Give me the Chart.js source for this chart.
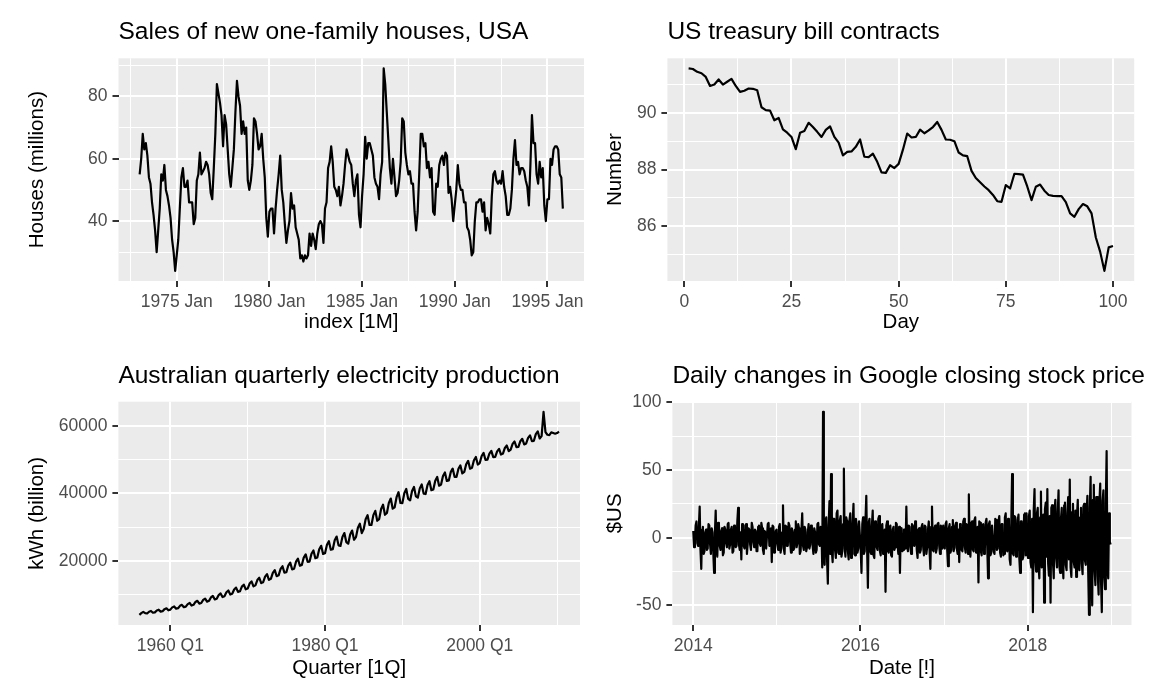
<!DOCTYPE html>
<html>
<head>
<meta charset="utf-8">
<title>Four time series</title>
<script src="https://cdn.jsdelivr.net/npm/chart.js@4.4.3/dist/chart.umd.js"></script>
<style>
    html, body {
        margin: 0px;
        padding: 0px;
        background-color: #ffffff;
    }

    #page {
        position: relative;
        width: 1153px;
        height: 694px;
        overflow: hidden;
    }

    #page canvas {
        position: absolute;
    }
</style>
</head>

<body>
<div id="page">
    <canvas id="hsalesChart" width="600" height="347" style="left:0px;top:0px;width:600px;height:347px"></canvas>
    <canvas id="ustreasChart" width="577" height="347" style="left:576px;top:0px;width:577px;height:347px"></canvas>
    <canvas id="elecChart" width="600" height="347" style="left:0px;top:347px;width:600px;height:347px"></canvas>
    <canvas id="googChart" width="577" height="347" style="left:576px;top:347px;width:577px;height:347px"></canvas>
</div>

<script>
// ---- data: monthly house sales, Jan 1973 onwards ----
const hsalesStart = 1973;
const hsalesValues = [
    55, 60, 68, 63, 65, 61, 54, 52, 46, 42, 37, 30,
    37, 44, 55, 53, 58, 50, 48, 45, 41, 34, 30, 24,
    29, 34, 44, 54, 57, 51, 51, 53, 46, 46, 46, 39,
    41, 53, 55, 62, 55, 56, 57, 59, 58, 55, 49, 47,
    57, 68, 84, 81, 78, 74, 64, 74, 71, 63, 55, 51,
    57, 63, 75, 85, 80, 77, 68, 72, 68, 70, 53, 50,
    53, 58, 73, 72, 68, 63, 64, 68, 60, 54, 41, 35,
    43, 44, 44, 36, 44, 50, 55, 61, 50, 46, 39, 33,
    37, 40, 49, 44, 45, 38, 36, 34, 28, 29, 27, 29,
    28, 29, 36, 32, 36, 34, 31, 36, 39, 40, 39, 33,
    44, 46, 57, 59, 64, 59, 51, 50, 48, 51, 45, 48,
    52, 58, 63, 61, 59, 58, 52, 48, 53, 55, 42, 38,
    48, 55, 67, 60, 65, 65, 63, 61, 54, 52, 51, 47,
    55, 59, 89, 84, 75, 66, 57, 52, 60, 54, 48, 49,
    53, 59, 73, 72, 62, 58, 55, 56, 52, 52, 43, 37,
    43, 55, 68, 68, 64, 65, 57, 59, 54, 57, 43, 42,
    52, 51, 58, 60, 61, 58, 62, 61, 49, 51, 47, 40,
    45, 50, 58, 52, 50, 50, 46, 46, 38, 37, 34, 29,
    30, 40, 46, 46, 47, 47, 43, 46, 37, 41, 39, 36,
    48, 55, 56, 53, 52, 53, 52, 56, 51, 48, 42, 42,
    44, 50, 60, 66, 58, 59, 55, 57, 57, 56, 53, 51,
    45, 58, 74, 65, 65, 55, 52, 59, 54, 57, 45, 40,
    47, 47, 60, 58, 63, 64, 64, 63, 55, 54, 44
];
const hsalesXBreaks = [1975, 1980, 1985, 1990, 1995];
const hsalesXLabels = ['1975 Jan', '1980 Jan', '1985 Jan', '1990 Jan', '1995 Jan'];
const hsalesXMinor = [1972.5, 1977.5, 1982.5, 1987.5, 1992.5, 1997.5];
const hsalesYBreaks = [40, 60, 80];
const hsalesYLabels = ['40', '60', '80'];
const hsalesYMinor = [30, 50, 70, 90];

// ---- data: treasury bill contracts, day 1..100 ----
const ustreasStart = 1;
const ustreasValues = [
    91.57, 91.55, 91.45, 91.40, 91.27, 90.95, 91.00, 91.18, 91.00, 91.10,
    91.20, 90.95, 90.74, 90.78, 90.86, 90.85, 90.80, 90.20, 90.10, 90.08,
    89.74, 89.82, 89.42, 89.30, 89.15, 88.72, 89.30, 89.36, 89.65, 89.50,
    89.33, 89.15, 89.40, 89.52, 89.15, 88.95, 88.50, 88.62, 88.64, 88.80,
    89.06, 88.45, 88.44, 88.56, 88.27, 87.90, 87.88, 88.15, 88.05, 88.20,
    88.70, 89.27, 89.13, 89.15, 89.41, 89.28, 89.38, 89.50, 89.68, 89.40,
    89.06, 89.05, 89.00, 88.60, 88.50, 88.47, 87.95, 87.70, 87.55, 87.40,
    87.27, 87.10, 86.88, 86.86, 87.45, 87.33, 87.85, 87.84, 87.82, 87.40,
    86.92, 87.39, 87.47, 87.25, 87.10, 87.07, 87.06, 87.06, 86.85, 86.45,
    86.33, 86.60, 86.78, 86.70, 86.45, 85.60, 85.10, 84.42, 85.25, 85.30
];
const ustreasXBreaks = [0, 25, 50, 75, 100];
const ustreasXLabels = ['0', '25', '50', '75', '100'];
const ustreasXMinor = [12.5, 37.5, 62.5, 87.5];
const ustreasYBreaks = [86, 88, 90];
const ustreasYLabels = ['86', '88', '90'];
const ustreasYMinor = [85, 87, 89, 91];

// ---- data: quarterly electricity production, 1956 Q1 onwards ----
const elecStart = 1956;
const elecValues = [
    3923, 4436, 4806, 4418, 4320, 4850, 5080, 4550, 4650, 5210, 5450, 4890,
    5020, 5620, 5880, 5280, 5480, 6140, 6420, 5760, 5900, 6600, 6900, 6200,
    6350, 7120, 7450, 6680, 6900, 7740, 8100, 7260, 7440, 8360, 8760, 7840,
    8080, 9090, 9520, 8510, 8720, 9810, 10280, 9190, 9450, 10640, 11150, 9960,
    10180, 11470, 12020, 10730, 10910, 12300, 12890, 11500, 11740, 13220, 13860, 12380,
    12670, 14250, 14930, 13350, 13600, 15280, 16000, 14320, 14620, 16410, 17180, 15390,
    15650, 17540, 18350, 16460, 16580, 18570, 19420, 17430, 17600, 19700, 20600, 18500,
    18720, 20930, 21880, 19670, 19750, 22060, 23050, 20740, 20980, 23390, 24420, 22010,
    22200, 24720, 25800, 23280, 23430, 26050, 27170, 24550, 24400, 27060, 28200, 25540,
    25050, 27780, 28950, 26220, 27000, 29800, 31000, 28200, 29400, 32300, 33500, 30600,
    30600, 33540, 34800, 31860, 32350, 35360, 36650, 33640, 34150, 37160, 38450, 35440,
    35850, 38860, 40350, 37140, 37100, 40040, 41300, 38360, 37900, 40700, 41900, 39100,
    38750, 41480, 42650, 39920, 39800, 42460, 43600, 40940, 41150, 43740, 44850, 42260,
    42600, 45120, 46200, 43680, 43850, 46300, 47350, 44900, 44900, 47280, 48300, 45920,
    46350, 48660, 49650, 47340, 47600, 49840, 50800, 48560, 49000, 51100, 52000, 49900,
    50000, 51820, 52600, 50780, 50800, 52480, 53200, 51520, 51800, 53480, 54200, 52520,
    53000, 54680, 55400, 53720, 53800, 55480, 56200, 54520, 54800, 56480, 57200, 55520,
    55600, 57600, 58400, 56300, 57000, 64200, 58200, 57400, 57300, 58100, 57900, 57700,
    57900, 58300
];
const elecXBreaks = [1960, 1980, 2000];
const elecXLabels = ['1960 Q1', '1980 Q1', '2000 Q1'];
const elecXMinor = [1950, 1970, 1990, 2010];
const elecYBreaks = [20000, 40000, 60000];
const elecYLabels = ['20000', '40000', '60000'];
const elecYMinor = [10000, 30000, 50000];

// ---- data: daily changes in Google closing price (sampled twice a week), 2014 onwards ----
const googStart = 2014;
const googChanges = [
    // 2014
    5, -7, -3, 9, 12, -4, -6, 8, 23, -9, -23, 6, 8, -12, -10, 4, 6, -9, -8, 10,
    9, -5, -12, 7, 4, -11, -26, 3, 20, -8, -14, 11, 10, -6, -9, 5, 7, -13, -11, 8,
    6, -4, -7, 10, 11, -8, -5, 6, 8, -11, -10, 9, 5, -7, -6, 12, 22, -5, -9, 4,
    -16, 10, 7, -6, -8, 9, 10, -12, -4, 7, 6, -5, -9, 11, 8, -3, -7, 6, 5, -10,
    -10, 8, 9, -4, -6, 11, 7, -9, -12, 5, 4, -8, -8, 10, 11, -6, -5, 7, -18, 9,
    8, -11, -6, 5,
    // 2015
    6, -5, -9, 8, 10, -11, -7, 4, 24, -8, -12, 9, 8, -6, -6, 11, 9, -4, -11, 7,
    5, -9, -8, 6, 12, -7, -4, 10, 7, -12, -10, 5, 18, -6, -9, 8, 6, -10, -7, 4,
    10, -8, -5, 9, 8, -6, -12, 7, 4, -11, -9, 10, 11, -5, -6, 8, 7, -22, 93, -14,
    -20, 12, 15, -16, -34, 9, 27, -12, 47, -10, -18, 14, 14, -9, -15, 18, 20, -11, -12, 13,
    16, -14, -10, 10, 51, -8, -14, 15, 12, -10, -16, 13, 18, -15, -9, 11, 25, -12, -13, 14,
    10, -11, -8, 12,
    // 2016
    12, -9, -26, 10, 15, -12, -10, 13, 31, -8, -37, 11, 14, -10, -12, 9, 20, -13, -15, 12,
    11, -7, -9, 14, 16, -10, -13, 8, 10, -12, -8, 6, -40, 9, 12, -10, -11, 7, 9, -13,
    -14, 6, 8, -9, -7, 11, 10, -5, -12, 8, -26, 5, 7, -10, -9, 6, 6, -8, 23, -6,
    -10, 9, 8, -7, -12, 10, 9, -5, -6, 12, 11, -9, -15, 6, 7, -11, -9, 8, 10, -7,
    -13, 9, 8, -12, -7, 6, 12, -10, -23, 8, 23, -9, -10, 7, 9, -11, -8, 10, 11, -6,
    -12, 9, 7, -8,
    // 2017
    9, -6, -8, 10, 12, -9, -21, 7, 10, -11, -9, 8, 13, -10, -7, 9, 11, -8, -12, 6,
    -18, 10, 8, -9, -10, 12, 14, -7, -11, 10, 9, -12, 32, -8, -14, 11, 12, -9, -10, 13,
    15, -11, -9, 8, -33, 12, 11, -10, -13, 9, 10, -12, -8, 11, 14, -7, -30, 10, 12, -13,
    -11, 9, 9, -10, -12, 14, 13, -9, -8, 12, 16, -11, -14, 10, 10, -13, -12, 15, 18, -9,
    -10, 14, 12, -16, -20, 11, 47, -12, -13, 16, 15, -14, -11, 13, 17, -15, -26, 12, 12, -16,
    -14, 17, 18, -13,
    // 2018
    18, -12, -15, 16, 20, -18, -22, 14, -55, 20, 36, -16, -25, 18, 22, -20, -30, 15, 34, -22,
    -20, 17, -48, 21, 26, -14, 36, -19, -28, 16, -48, 22, 24, -18, -30, 20, 28, -15, -22, 19,
    35, -21, -26, 14, 22, -17, -30, 24, 26, -20, -24, 18, 30, -16, 43, -22, -29, 19, 25, -18,
    -22, 20, -29, 16, 28, -21, -24, 15, 22, -19, -27, 23, 25, -17, -20, 18, 31, -25, -57, 22,
    45, -30, -50, 28, 39, -24, -35, 30, 30, -28, -42, 26, 40, -32, -55, 27, 35, -29, -38, 25,
    64, -22, -30, 18, -3, -5
];
const googXBreaks = [2014, 2016, 2018];
const googXLabels = ['2014', '2016', '2018'];
const googXMinor = [2013, 2015, 2017, 2019];
const googYBreaks = [-50, 0, 50, 100];
const googYLabels = ['-50', '0', '50', '100'];
const googYMinor = [-25, 25, 75];

// ---- ggplot-ish look ----
const FONT = '"Liberation Sans", Arial, sans-serif';

const panelBg = {
    id: 'panelBg',
    beforeDraw(chart) {
        const { ctx, chartArea } = chart;
        ctx.save();
        ctx.fillStyle = '#EBEBEB';
        ctx.fillRect(chartArea.left, chartArea.top, chartArea.right - chartArea.left, chartArea.bottom - chartArea.top);
        ctx.restore();
    }
};

const panelTitle = {
    id: 'panelTitle',
    afterDraw(chart, args, opts) {
        const { ctx, chartArea } = chart;
        ctx.save();
        ctx.font = '24.5px ' + FONT;
        ctx.fillStyle = '#000000';
        ctx.textBaseline = 'alphabetic';
        ctx.textAlign = 'left';
        ctx.fillText(opts.text, chartArea.left, chartArea.top - 19);
        ctx.restore();
    }
};

function expand(lo, hi) {
    const d = (hi - lo) * 0.05;
    return [lo - d, hi + d];
}

function tickList(breaks, labels, minor, range) {
    const t = [];
    minor.forEach(v => { if (v >= range[0] && v <= range[1]) t.push({ value: v, lab: '', mj: false }); });
    breaks.forEach((v, i) => { if (v >= range[0] && v <= range[1]) t.push({ value: v, lab: labels[i], mj: true }); });
    return t.sort((a, b) => a.value - b.value);
}

function axisOpts(range, breaks, labels, minor, title, titlePad, fit) {
    return {
        type: 'linear',
        min: range[0],
        max: range[1],
        bounds: 'data',
        afterBuildTicks: axis => { axis.ticks = tickList(breaks, labels, minor, range); },
        afterFit: fit,
        ticks: {
            autoSkip: false,
            maxRotation: 0,
            minRotation: 0,
            padding: 5,
            color: '#4D4D4D',
            font: { family: FONT, size: 17.5 },
            callback: (v, i, ticks) => ticks[i].lab
        },
        grid: {
            color: '#FFFFFF',
            lineWidth: c => (c.tick && c.tick.mj ? 2 : 1),
            tickLength: 6,
            tickWidth: 2,
            tickColor: c => (c.tick && c.tick.mj ? '#333333' : 'rgba(0,0,0,0)')
        },
        border: { display: false },
        title: {
            display: true,
            text: title,
            color: '#000000',
            font: { family: FONT, size: 20.5 },
            padding: titlePad
        }
    };
}

function makePanel(p) {
    const pts = p.values.map((v, i) => ({ x: p.x0 + i * p.step, y: v }));
    const xr = expand(pts[0].x, pts[pts.length - 1].x);
    const yr = expand(Math.min(...p.values), Math.max(...p.values));
    const a = p.area;

    new Chart(document.getElementById(p.id), {
        type: 'line',
        data: {
            datasets: [{
                data: pts,
                borderColor: '#000000',
                borderWidth: 2.2,
                borderJoinStyle: 'round',
                pointRadius: 0,
                tension: 0,
                fill: false
            }]
        },
        options: {
            responsive: false,
            animation: false,
            events: [],
            layout: { padding: { left: 0, top: a.top, right: p.w - a.right, bottom: 0 } },
            plugins: {
                legend: { display: false },
                tooltip: { enabled: false },
                panelTitle: { text: p.title }
            },
            scales: {
                x: axisOpts(xr, p.xBreaks, p.xLabels, p.xMinor, p.xTitle,
                    { top: 0, bottom: p.xTitlePad },
                    axis => { axis.height = p.h - a.bottom; }),
                y: axisOpts(yr, p.yBreaks, p.yLabels, p.yMinor, p.yTitle,
                    { top: p.yTitlePad, bottom: 0 },
                    axis => { axis.width = a.left; })
            }
        },
        plugins: [panelBg, panelTitle]
    });
}

makePanel({
    id: 'hsalesChart', title: 'Sales of new one-family houses, USA',
    values: hsalesValues, x0: hsalesStart, step: 1 / 12,
    xBreaks: hsalesXBreaks, xLabels: hsalesXLabels, xMinor: hsalesXMinor,
    yBreaks: hsalesYBreaks, yLabels: hsalesYLabels, yMinor: hsalesYMinor,
    xTitle: 'index [1M]', yTitle: 'Houses (millions)',
    w: 600, h: 347, area: { left: 118.5, right: 584, top: 58.3, bottom: 281 },
    xTitlePad: 12.3, yTitlePad: 25.4
});

makePanel({
    id: 'ustreasChart', title: 'US treasury bill contracts',
    values: ustreasValues, x0: ustreasStart, step: 1,
    xBreaks: ustreasXBreaks, xLabels: ustreasXLabels, xMinor: ustreasXMinor,
    yBreaks: ustreasYBreaks, yLabels: ustreasYLabels, yMinor: ustreasYMinor,
    xTitle: 'Day', yTitle: 'Number',
    w: 577, h: 347, area: { left: 91.4, right: 558.2, top: 58.3, bottom: 281 },
    xTitlePad: 12.3, yTitlePad: 26.8
});

makePanel({
    id: 'elecChart', title: 'Australian quarterly electricity production',
    values: elecValues, x0: elecStart, step: 1 / 4,
    xBreaks: elecXBreaks, xLabels: elecXLabels, xMinor: elecXMinor,
    yBreaks: elecYBreaks, yLabels: elecYLabels, yMinor: elecYMinor,
    xTitle: 'Quarter [1Q]', yTitle: 'kWh (billion)',
    w: 600, h: 347, area: { left: 118.4, right: 580, top: 54.7, bottom: 278 },
    xTitlePad: 13, yTitlePad: 25.4
});

makePanel({
    id: 'googChart', title: 'Daily changes in Google closing stock price',
    values: googChanges, x0: googStart, step: 3.5 / 365.25,
    xBreaks: googXBreaks, xLabels: googXLabels, xMinor: googXMinor,
    yBreaks: googYBreaks, yLabels: googYLabels, yMinor: googYMinor,
    xTitle: 'Date [!]', yTitle: '$US',
    w: 577, h: 347, area: { left: 96.4, right: 555.5, top: 54.7, bottom: 278 },
    xTitlePad: 13, yTitlePad: 26.8
});
</script>
</body>
</html>
